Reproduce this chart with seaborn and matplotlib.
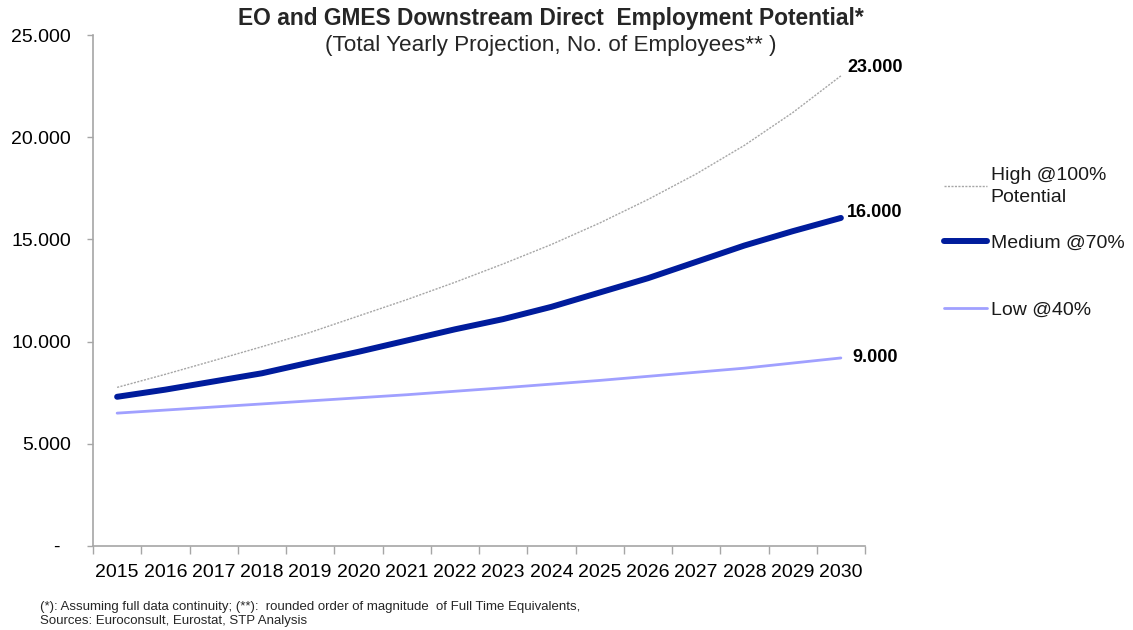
import matplotlib
matplotlib.use("Agg")
import matplotlib.pyplot as plt
import seaborn as sns
import pandas as pd
from matplotlib.ticker import FuncFormatter, FixedLocator

years = list(range(2015, 2031))
high = [7760, 8400, 9070, 9750, 10450, 11250, 12050, 12900, 13800, 14750,
        15800, 16950, 18200, 19600, 21200, 23000]
medium = [7300, 7650, 8050, 8450, 8980, 9500, 10050, 10600, 11100, 11700,
          12400, 13100, 13900, 14700, 15400, 16050]
low = [6500, 6650, 6800, 6950, 7100, 7250, 7400, 7570, 7740, 7920,
       8100, 8300, 8500, 8700, 8950, 9200]
series_names = ["High @100%\nPotential", "Medium @70%", "Low @40%"]
end_labels = ["23.000", "16.000", "9.000"]
y_ticks = [0, 5000, 10000, 15000, 20000, 25000]

title = "EO and GMES Downstream Direct  Employment Potential*"
subtitle = "(Total Yearly Projection, No. of Employees** )"
footnote = ("(*): Assuming full data continuity; (**):  rounded order of magnitude  of Full Time Equivalents,\n"
            "Sources: Euroconsult, Eurostat, STP Analysis")

sns.set_theme(style="white")
plt.rcParams["font.family"] = ["Liberation Sans", "DejaVu Sans"]

df = pd.DataFrame({"year": years, "high": high, "medium": medium, "low": low})

fig = plt.figure(figsize=(11.33, 6.3), dpi=100)
ax = fig.add_axes([93 / 1133, 1 - 546 / 630, (865 - 93) / 1133, (546 - 35) / 630])

sns.lineplot(data=df, x="year", y="high", ax=ax, color="#a6a6a6", lw=1.0,
             linestyle=(0, (1.5, 1.0)), label=series_names[0])
sns.lineplot(data=df, x="year", y="medium", ax=ax, color="#001c9c", lw=4.3,
             solid_capstyle="round", label=series_names[1])
sns.lineplot(data=df, x="year", y="low", ax=ax, color="#a0a0ff", lw=2.0,
             solid_capstyle="round", label=series_names[2])

# end-of-series labels
offsets = [(5, 6), (4, 4), (8, 0)]
for vals, txt, off in zip([high, medium, low], end_labels, offsets):
    ax.annotate(txt, xy=(years[-1], vals[-1]), xytext=off,
                textcoords="offset points", fontsize=13, fontweight="bold",
                va="center", ha="left", color="black", annotation_clip=False)

ax.set_xlim(years[0] - 0.5, years[-1] + 0.5)
ax.set_ylim(0, 25000)
ax.set_yticks(y_ticks)
ax.yaxis.set_major_formatter(FuncFormatter(
    lambda v, p: "-  " if v == 0 else f"{int(v):,}".replace(",", ".")))

# category boundaries as tick marks, labels between them
ax.xaxis.set_major_locator(FixedLocator([y - 0.5 for y in years] + [years[-1] + 0.5]))
ax.xaxis.set_minor_locator(FixedLocator(years))
ax.set_xticklabels([])
ax.set_xticklabels([str(y) for y in years], minor=True)
ax.tick_params(axis="x", which="major", length=6, width=1, color="#a6a6a6",
               direction="out", bottom=True)
ax.tick_params(axis="x", which="minor", length=0, pad=13, labelsize=14,
               labelcolor="black")
ax.tick_params(axis="y", which="major", length=4, width=1, color="#a6a6a6",
               direction="out", left=True, pad=12, labelsize=14,
               labelcolor="black")

for s in ["top", "right"]:
    ax.spines[s].set_visible(False)
for s in ["left", "bottom"]:
    ax.spines[s].set_color("#a6a6a6")
    ax.spines[s].set_linewidth(1.2)

ax.set_xlabel("")
ax.set_ylabel("")
ax.grid(False)

handles, labels = ax.get_legend_handles_labels()
common = dict(frameon=False, fontsize=14, handlelength=2.2, handletextpad=0.2,
              borderaxespad=0, borderpad=0, bbox_transform=fig.transFigure,
              loc="upper left")
leg1 = ax.legend(handles[:1], labels[:1], bbox_to_anchor=(944 / 1133, 1 - 167 / 630),
                 **common)
for t in leg1.get_texts():
    t.set_color("#1a1a1a")
    t.set_linespacing(1.35)
ax.add_artist(leg1)
leg2 = ax.legend(handles[1:], labels[1:], bbox_to_anchor=(944 / 1133, 1 - 234 / 630),
                 labelspacing=2.55, **common)
for t in leg2.get_texts():
    t.set_color("#1a1a1a")

fig.text(551 / 1133, 1 - 19 / 630, title, ha="center", va="center",
         fontsize=16.4, fontweight="bold")
fig.text(551 / 1133, 1 - 46 / 630, subtitle, ha="center", va="center",
         fontsize=16.2)
fig.text(40 / 1133, 1 - 614 / 630, footnote, ha="left", va="center",
         fontsize=9.5, linespacing=1.25)

fig.savefig("out.png", dpi=100)
